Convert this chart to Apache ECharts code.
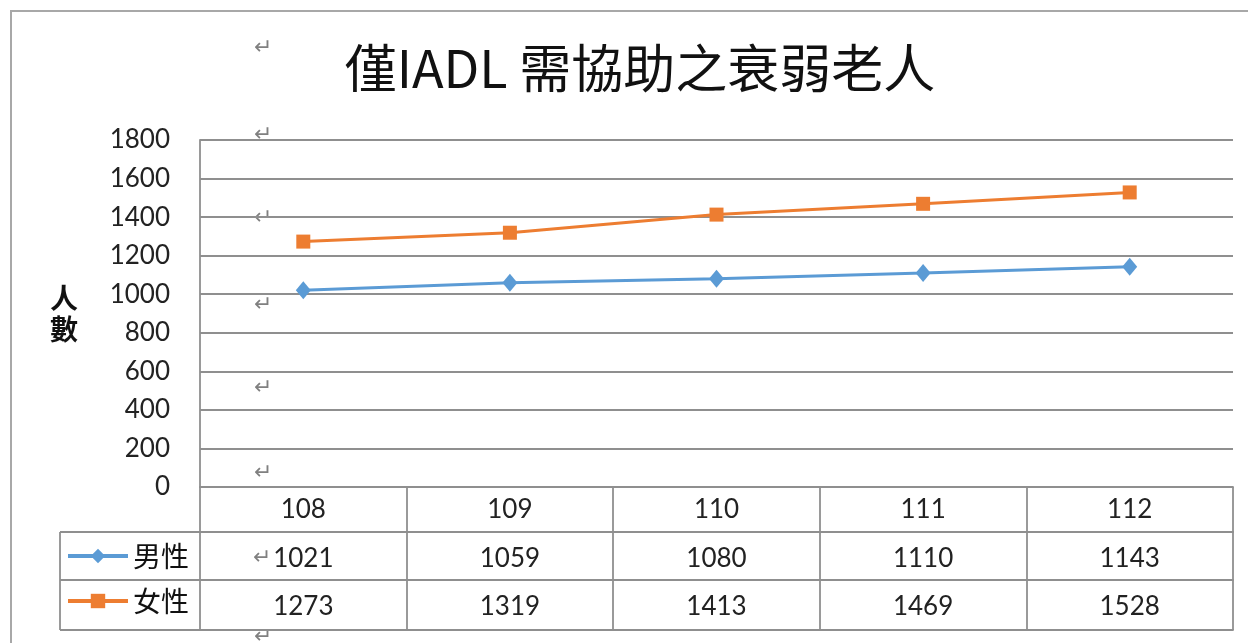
<!DOCTYPE html>
<html>
<head>
<meta charset="utf-8">
<script src="https://cdn.jsdelivr.net/npm/echarts@6/dist/echarts.min.js"></script>
<style>
html,body{margin:0;padding:0;background:#fff;}
#c{width:1248px;height:643px;}
</style>
</head>
<body>
<div id="c"></div>
<script>
const titleText = '僅IADL 需協助之衰弱老人';
const yAxisName = '人\n數';
const categories = ['108', '109', '110', '111', '112'];
const maleName = '男性';
const femaleName = '女性';
const maleValues = [1021, 1059, 1080, 1110, 1143];
const femaleValues = [1273, 1319, 1413, 1469, 1528];
const yTicks = { min: 0, max: 1800, interval: 200 };

const gridColor = '#8f8f8f';
const gridWidth = 1.8;
const textColor = '#222';
const numFont = 'Lato, "Liberation Sans", sans-serif';
const cjkFont = '"Noto Sans CJK TC", "Noto Sans CJK SC", sans-serif';
const blue = '#5B9BD5';
const orange = '#ED7D31';

const chart = echarts.init(document.getElementById('c'), null, { renderer: 'canvas' });

function tableAxis(offset, tickLen, margin, formatter) {
  return {
    type: 'category',
    data: categories,
    position: 'bottom',
    offset: offset,
    boundaryGap: true,
    axisLine: { show: true, lineStyle: { color: gridColor, width: gridWidth } },
    axisTick: { show: true, inside: false, length: tickLen, lineStyle: { color: gridColor, width: gridWidth } },
    axisLabel: { show: true, margin: margin, color: textColor, fontFamily: numFont, fontSize: 26, formatter: formatter },
    splitLine: { show: false }
  };
}

const marks = [48, 135, 218, 305, 388, 473, 637];
const markGraphics = marks.map(y => ({
  type: 'text', x: 263, y: y, silent: true,
  style: { text: '\u21B5', fill: '#808080', font: '22px "DejaVu Sans"', textAlign: 'center', textVerticalAlign: 'middle' }
}));
markGraphics.push({
  type: 'text', x: 262, y: 558, silent: true,
  style: { text: '\u21B5', fill: '#808080', font: '22px "DejaVu Sans"', textAlign: 'center', textVerticalAlign: 'middle' }
});

const option = {
  backgroundColor: '#fff',
  animation: false,
  grid: { left: 200, right: 15, top: 140, bottom: 156, containLabel: false },
  legend: {
    orient: 'vertical',
    left: 66, top: 542,
    padding: 0,
    itemGap: 17,
    itemWidth: 60, itemHeight: 18,
    lineStyle: { width: 4 },
    textStyle: { fontFamily: cjkFont, fontSize: 28, color: '#111' },
    data: [maleName, femaleName]
  },
  xAxis: [
    tableAxis(0, 45, 10, (v) => v),
    tableAxis(45, 48, 14, (v, i) => String(maleValues[i])),
    tableAxis(93, 50, 14, (v, i) => String(femaleValues[i])),
    {
      type: 'category', data: categories, position: 'bottom', offset: 143,
      axisLine: { show: true, lineStyle: { color: gridColor, width: gridWidth } },
      axisTick: { show: false }, axisLabel: { show: false }
    }
  ],
  yAxis: {
    type: 'value',
    min: yTicks.min, max: yTicks.max, interval: yTicks.interval,
    name: yAxisName,
    nameLocation: 'middle',
    nameRotate: 0,
    nameGap: 122,
    nameTextStyle: { fontFamily: cjkFont, fontSize: 28, fontWeight: 'bold', color: '#111', lineHeight: 31 },
    axisLine: { show: true, lineStyle: { color: gridColor, width: gridWidth } },
    axisTick: { show: false },
    axisLabel: { margin: 30, color: textColor, fontFamily: numFont, fontSize: 26, formatter: (v) => String(v) },
    splitLine: { show: true, lineStyle: { color: gridColor, width: gridWidth } }
  },
  series: [
    {
      name: maleName, type: 'line', xAxisIndex: 0, data: maleValues,
      symbol: 'diamond', symbolSize: [15, 18],
      lineStyle: { color: blue, width: 3 },
      itemStyle: { color: blue },
      z: 3
    },
    {
      name: femaleName, type: 'line', xAxisIndex: 0, data: femaleValues,
      symbol: 'rect', symbolSize: 14,
      lineStyle: { color: orange, width: 3 },
      itemStyle: { color: orange },
      z: 3
    }
  ],
  graphic: [
    { type: 'line', silent: true, shape: { x1: 10, y1: 11, x2: 1248, y2: 11 }, style: { stroke: '#a8a8a8', lineWidth: 2 } },
    { type: 'line', silent: true, shape: { x1: 11, y1: 10, x2: 11, y2: 643 }, style: { stroke: '#a8a8a8', lineWidth: 2 } },
    { type: 'line', silent: true, shape: { x1: 60, y1: 532, x2: 200, y2: 532 }, style: { stroke: gridColor, lineWidth: gridWidth } },
    { type: 'line', silent: true, shape: { x1: 60, y1: 580, x2: 200, y2: 580 }, style: { stroke: gridColor, lineWidth: gridWidth } },
    { type: 'line', silent: true, shape: { x1: 60, y1: 630, x2: 200, y2: 630 }, style: { stroke: gridColor, lineWidth: gridWidth } },
    { type: 'line', silent: true, shape: { x1: 60, y1: 532, x2: 60, y2: 630 }, style: { stroke: gridColor, lineWidth: gridWidth } },
    {
      type: 'text', silent: true, x: 640, y: 68,
      style: { text: titleText, fill: '#111', font: '52px ' + cjkFont, textAlign: 'center', textVerticalAlign: 'middle' }
    }
  ].concat(markGraphics)
};

chart.setOption(option);
</script>
</body>
</html>
